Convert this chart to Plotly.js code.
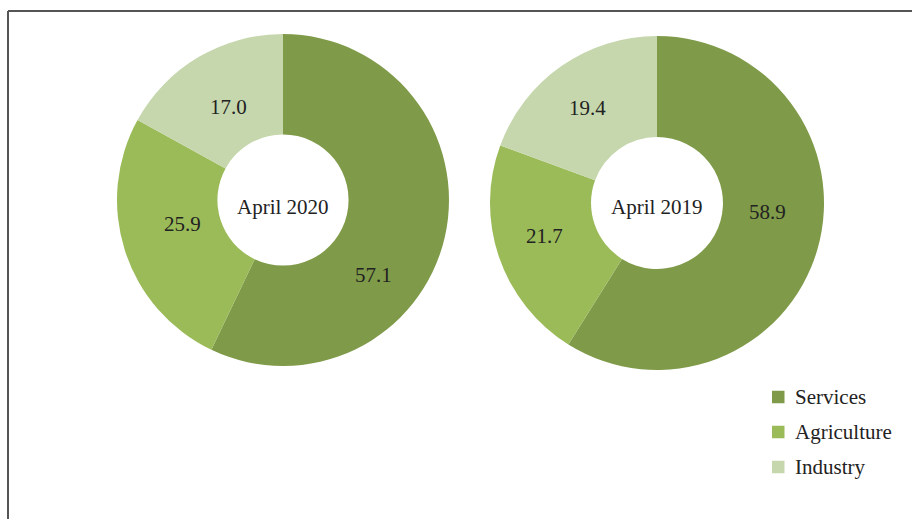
<!DOCTYPE html>
<html>
<head>
<meta charset="utf-8">
<script src="https://cdn.plot.ly/plotly-3.0.1.min.js"></script>
<style>html,body{margin:0;padding:0;background:#fff}#chart{width:912px;height:519px}</style>
</head>
<body>
<div id="chart"></div>
<script>
// ---- data ----
const sectors = ["Services", "Agriculture", "Industry"];
const values2020 = [57.1, 25.9, 17.0];
const values2019 = [58.9, 21.7, 19.4];
const periods = ["April 2020", "April 2019"];
const sectorColors = ["#7f9a48", "#9bbb59", "#c6d7ad"];

// ---- layout helpers ----
const W = 912, H = 519;
const px = x => x / W;
const py = y => 1 - y / H;
const FONT = "Liberation Serif";

function donut(vals, dom) {
  return {
    type: "pie",
    labels: sectors,
    values: vals,
    sort: false,
    direction: "clockwise",
    rotation: 0,
    hole: 0.395,
    textinfo: "none",
    hoverinfo: "label+value",
    marker: { colors: sectorColors, line: { width: 0 } },
    domain: { x: [px(dom[0]), px(dom[1])], y: [py(dom[3]), py(dom[2])] },
    showlegend: false
  };
}

const traces = [
  donut(values2020, [117, 449, 34, 366]),
  donut(values2019, [490, 824, 36, 370])
];

// label positions (pixels) for each slice value and the centre titles
const labelPos2020 = [[373, 275], [182, 224], [228, 107]];
const labelPos2019 = [[767, 212], [544, 236], [587, 108]];
const centrePos = [[283, 207], [657, 207]];

const annotations = [];
const shapes = [];
function addLabel(text, p, anchor) {
  annotations.push({
    xref: "paper", yref: "paper", x: px(p[0]), y: py(p[1]),
    xanchor: anchor || "center", yanchor: "middle", showarrow: false,
    text: text, font: { family: FONT, size: 21, color: "#222" },
    xshift: anchor === "left" ? -2 : 0
  });
}
values2020.forEach((v, i) => addLabel(v.toFixed(1), labelPos2020[i]));
values2019.forEach((v, i) => addLabel(v.toFixed(1), labelPos2019[i]));
periods.forEach((t, i) => addLabel(t, centrePos[i]));

// legend (squares + labels)
const legendX = 772, legendY0 = 397, legendStep = 35, sq = 12.5;
sectors.forEach((s, i) => {
  const cy = legendY0 + i * legendStep;
  shapes.push({
    type: "rect", xref: "paper", yref: "paper",
    x0: px(legendX), x1: px(legendX + sq), y0: py(cy + sq / 2), y1: py(cy - sq / 2),
    fillcolor: sectorColors[i], line: { width: 0 }
  });
  addLabel(s, [795, cy], "left");
});

// frame
shapes.push(
  { type: "line", xref: "paper", yref: "paper", x0: px(8), x1: px(8), y0: -0.05, y1: py(11),
    line: { color: "#555", width: 2 } },
  { type: "line", xref: "paper", yref: "paper", x0: px(8), x1: 1.05, y0: py(11), y1: py(11),
    line: { color: "#555", width: 2 } }
);

const layout = {
  width: W, height: H,
  margin: { l: 0, r: 0, t: 0, b: 0 },
  paper_bgcolor: "#ffffff",
  showlegend: false,
  annotations: annotations,
  shapes: shapes
};

Plotly.newPlot("chart", traces, layout, { displayModeBar: false, staticPlot: true });
</script>
</body>
</html>
